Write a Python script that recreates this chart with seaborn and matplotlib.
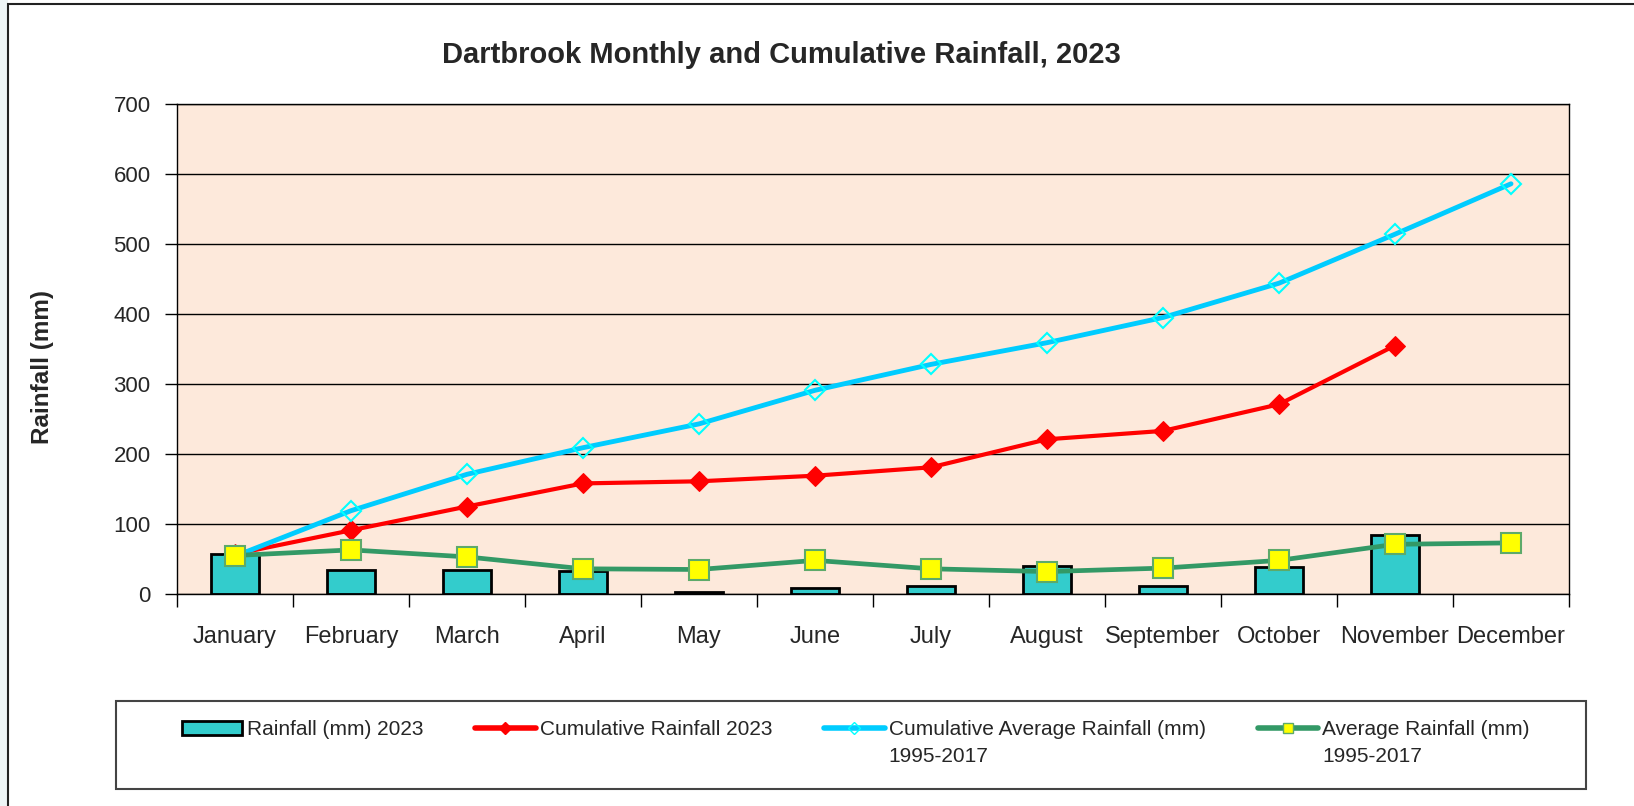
import numpy as np
import pandas as pd
import matplotlib.pyplot as plt
import seaborn as sns
from matplotlib.lines import Line2D
from matplotlib.patches import Patch, Rectangle

# Data
months = ["January", "February", "March", "April", "May", "June", "July",
          "August", "September", "October", "November", "December"]
rain_2023 = [57, 34, 34, 33, 3, 8, 12, 40, 12, 38, 84]
cum_2023 = [57, 91, 125, 158, 161, 169, 181, 221, 233, 271, 355]
cum_avg = [54, 119, 171, 209, 243, 291, 328, 359, 395, 444, 514, 586]
avg_rain = [55, 63, 53, 36, 35, 48, 36, 32, 37, 48, 71, 73]
y_ticks = [0, 100, 200, 300, 400, 500, 600, 700]

legend_labels = ["Rainfall (mm) 2023", "Cumulative Rainfall 2023",
                 "Cumulative Average Rainfall (mm)", "Average Rainfall (mm)"]
legend_second_line = "1995-2017"

sns.set_theme(style="ticks")
plt.rcParams['font.family'] = ['Liberation Sans', 'DejaVu Sans']
narrow = ['Liberation Sans Narrow', 'Liberation Sans', 'DejaVu Sans']

W, H = 1634, 806
fig = plt.figure(figsize=(W / 100, H / 100), dpi=100)
fig.patch.set_facecolor('white')

# chart-area frame + pale strip on the far left
fig.patches.append(Rectangle((0, 0), 8 / W, 1, transform=fig.transFigure,
                             facecolor='#EEF5F6', edgecolor='none', zorder=0))
fig.patches.append(Rectangle((8 / W, -0.1), 1.2, 1.1 - 4 / H, transform=fig.transFigure,
                             fill=False, edgecolor='#222222', lw=1.5, zorder=1))

ax = fig.add_axes([177 / W, 1 - 594 / H, (1569 - 177) / W, (594 - 104) / H])
ax.set_facecolor('#FDE9DB')

idx = np.arange(len(months))

sns.barplot(x=months[:len(rain_2023)], y=rain_2023, order=months, color='#33CCCC',
            edgecolor='black', linewidth=2, width=0.41, saturation=1, ax=ax, zorder=2)

sns.lineplot(x=idx[:len(cum_2023)], y=cum_2023, color='#FF0000', lw=3, marker='D',
             ms=10, mfc='#FF0000', mec='#FF0000', ax=ax, zorder=3)
sns.lineplot(x=idx, y=cum_avg, color='#00CCFF', lw=3.5, marker='D', ms=10,
             mfc='none', mec='#00FFFF', mew=1.5, ax=ax, zorder=4)
sns.lineplot(x=idx, y=avg_rain, color='#339966', lw=3.4, marker='s', ms=15,
             mfc='#FFFF00', mec='#5DAA6A', mew=1.5, ax=ax, zorder=5)

ax.set_xlim(-0.5, len(months) - 0.5)
ax.set_ylim(0, 700)
ax.set_yticks(y_ticks)
ax.set_xticks(idx)
ax.set_xticklabels(months)
ax.set_xticks(np.arange(-0.5, len(months), 1), minor=True)
ax.set_xlabel('')
ax.set_ylabel('')
ax.grid(axis='y', color='black', lw=1)
ax.set_axisbelow(True)
for s in ax.spines.values():
    s.set_color('black')
    s.set_linewidth(1)
ax.tick_params(axis='x', which='major', length=0, pad=23, labelsize=17)
ax.tick_params(axis='x', which='minor', length=9, width=1, color='black')
ax.tick_params(axis='y', length=9, width=1, color='black', pad=10, labelsize=16)

fig.text(43 / W, 1 - 367 / H, 'Rainfall (mm)', rotation=90, fontsize=17.5,
         fontweight='bold', ha='center', va='center')
fig.text(781 / W, 1 - 55 / H, 'Dartbrook Monthly and Cumulative Rainfall, 2023',
         ha='center', va='center', fontsize=21, fontweight='bold', family=narrow)

# legend
fig.patches.append(Rectangle((116 / W, 1 - 789 / H), (1586 - 116) / W, (789 - 701) / H,
                             transform=fig.transFigure, fill=False,
                             edgecolor='#444444', lw=1.5, zorder=1))
handles = [
    Patch(facecolor='#33CCCC', edgecolor='black', lw=2),
    Line2D([], [], color='#FF0000', lw=4, marker='D', ms=6, mfc='#FF0000', mec='#FF0000'),
    Line2D([], [], color='#00CCFF', lw=4, marker='D', ms=6, mfc='none', mec='#00FFFF'),
    Line2D([], [], color='#339966', lw=4, marker='s', ms=7, mfc='#FFFF00', mec='#5DAA6A'),
]
leg = fig.legend(handles, legend_labels, loc='upper left', ncol=4, mode='expand',
                 bbox_to_anchor=(182 / W, 1 - 721 / H, (1530 - 182) / W, 0.001),
                 frameon=False, borderpad=0, borderaxespad=0, handlelength=2.9,
                 handletextpad=0.2, prop={'family': narrow, 'size': 15})

fig.canvas.draw()
for t in leg.get_texts()[2:]:
    bb = t.get_window_extent()
    fig.text(bb.x0 / W, (bb.y0 - 27) / H, legend_second_line, ha='left', va='bottom',
             family=narrow, fontsize=15)

fig.savefig('out.png', dpi=100, facecolor='white')
